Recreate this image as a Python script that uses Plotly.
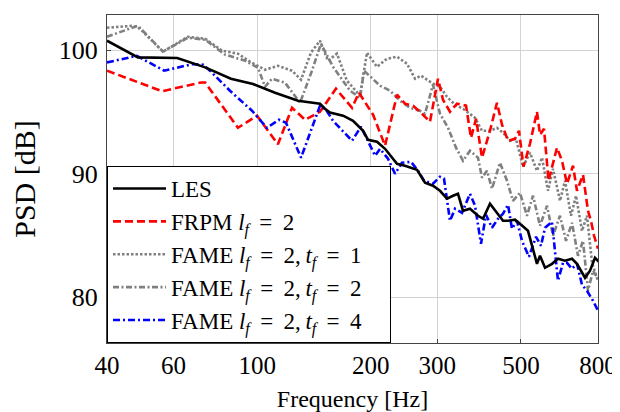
import plotly.graph_objects as go

# ---------------- data ----------------
les_f = [40.0, 48.3, 61.4, 72.8, 85.2, 97.5, 111.5, 128.3, 146.7, 151.2, 155.9, 168.9, 179.5,
         190.8, 196.7, 207.7, 218.2, 234.7, 246.4, 265.2, 278.4, 292.3, 305.1, 318.4, 330.3,
         340.5, 351.1, 366.4, 384.7, 396.6, 413.9, 432.0, 448.1, 462.0, 482.1, 497.0, 521.9,
         551.3, 561.6, 579.0, 604.2, 626.7, 654.1, 682.7, 703.8, 739.0, 761.9, 785.5, 809.8]
les_db = [100.77, 99.42, 99.37, 98.61, 97.69, 97.26, 96.56, 95.91, 95.67, 95.26, 94.96, 94.70,
          94.29, 93.48, 92.75, 92.59, 92.02, 90.81, 90.65, 90.32, 89.27, 89.03, 88.62, 87.98,
          88.22, 88.38, 87.00, 87.17, 86.60, 86.36, 87.57, 86.84, 86.19, 86.19, 86.28, 85.95,
          85.38, 82.71, 83.36, 82.39, 82.71, 83.12, 82.96, 83.12, 82.71, 81.58, 82.15, 83.20, 82.79]

frpm_f = [40.0, 56.0, 71.0, 72.8, 88.9, 99.9, 113.5, 123.7, 133.9, 146.7, 161.7, 178.4, 186.1,
          202.8, 218.2, 227.7, 234.7, 246.4, 258.8, 273.3, 287.0, 301.4, 310.7, 324.3, 338.4,
          357.6, 368.6, 380.1, 394.2, 413.9, 431.9, 445.4, 462.0, 482.1, 494.0, 507.7, 528.3,
          551.3, 561.6, 575.5, 591.5, 622.9, 642.2, 662.1, 686.9, 703.8, 730.1, 752.6, 766.6,
          780.7, 800.0]
frpm_db = [98.34, 96.68, 97.39, 97.39, 93.72, 94.70, 92.39, 95.34, 94.37, 95.02, 96.88, 95.34,
           96.56, 94.78, 92.27, 94.70, 96.40, 95.67, 95.51, 94.86, 94.21, 97.69, 95.99, 95.02,
           95.67, 95.51, 92.91, 94.45, 91.30, 93.48, 95.75, 93.97, 92.67, 92.83, 93.48, 90.57,
           92.43, 95.02, 93.16, 93.64, 89.43, 92.11, 91.05, 89.19, 90.65, 88.62, 89.92, 87.00,
           86.19, 85.00, 83.93]

fame1_f = [40.0, 46.9, 48.9, 56.3, 65.5, 72.8, 80.7, 88.9, 95.7, 104.9, 113.5, 123.7, 130.7,
           138.8, 146.7, 154.0, 162.7, 172.9, 187.3, 195.4, 207.7, 220.8, 234.7, 249.4, 262.0,
           271.7, 292.3, 305.1, 318.4, 334.4, 351.1, 377.8, 394.2, 413.9, 431.9, 448.1, 467.6,
           485.0, 506.2, 528.3, 551.3, 568.5, 589.7, 607.9, 634.4, 654.1, 678.5, 699.6, 725.6,
           748.1, 771.3, 800.0]
fame1_db = [101.82, 101.98, 101.74, 99.88, 101.09, 100.93, 99.96, 99.72, 99.07, 98.42, 98.74,
            98.34, 97.61, 99.80, 100.77, 99.15, 99.72, 97.53, 96.32, 99.80, 98.66, 99.31, 99.47,
            98.91, 97.69, 97.94, 97.29, 97.04, 96.23, 95.59, 95.26, 94.53, 93.48, 93.48, 93.72,
            93.32, 92.67, 92.83, 90.57, 91.70, 90.24, 91.30, 88.62, 90.40, 87.81, 89.43, 86.60,
            88.22, 85.38, 86.60, 82.79, 81.34]

fame2_f = [40.0, 48.3, 56.3, 65.5, 72.8, 82.2, 92.9, 100.5, 104.9, 109.4, 118.5, 129.9, 139.7,
           147.6, 158.8, 176.2, 187.3, 191.9, 211.6, 224.9, 239.0, 254.1, 270.0, 278.4, 292.3,
           305.1, 320.4, 336.4, 351.1, 366.4, 384.7, 394.2, 406.4, 419.0, 440.0, 459.2, 476.2,
           497.0, 518.6, 538.1, 561.6, 586.1, 607.9, 634.4, 658.1, 682.7, 708.1, 730.1, 752.6,
           776.0, 800.0]
fame2_db = [101.09, 101.98, 99.88, 101.01, 100.85, 99.64, 99.15, 98.58, 97.04, 97.69, 97.37,
            95.75, 98.34, 100.53, 98.66, 96.72, 96.15, 98.34, 97.13, 96.72, 95.91, 95.34, 95.10,
            94.86, 97.21, 94.86, 93.72, 92.11, 91.05, 91.86, 91.30, 89.68, 90.24, 88.79, 90.89,
            89.43, 87.81, 88.46, 86.60, 88.22, 85.79, 87.41, 84.98, 86.60, 84.57, 86.03, 83.36,
            84.57, 80.53, 82.15, 81.50]

fame4_f = [40.0, 48.0, 56.7, 67.2, 71.9, 75.0, 84.7, 96.9, 106.1, 114.2, 119.2, 130.7, 146.7,
           152.2, 158.8, 170.9, 178.4, 188.4, 199.1, 205.3, 211.6, 222.2, 231.9, 241.9, 255.6,
           266.8, 276.7, 292.3, 305.1, 312.6, 324.3, 334.4, 348.9, 366.4, 377.8, 391.8, 403.9,
           419.0, 434.6, 448.1, 462.0, 473.3, 488.0, 503.1, 525.0, 548.0, 565.0, 579.0, 604.2,
           626.7, 646.2, 662.1, 682.7, 703.8, 725.6, 748.1, 776.0, 800.0]
fame4_db = [99.01, 99.55, 98.34, 98.87, 98.83, 98.34, 96.72, 95.10, 93.72, 94.37, 94.13, 91.30,
            95.51, 95.18, 94.29, 93.24, 92.67, 93.81, 92.27, 91.46, 92.02, 91.21, 90.00, 90.89,
            90.97, 90.24, 89.43, 89.19, 89.76, 89.60, 86.19, 87.17, 86.84, 88.38, 87.41, 84.33,
            86.68, 85.63, 86.36, 86.76, 87.49, 85.55, 86.19, 84.57, 83.28, 84.90, 84.17, 85.63,
            86.11, 81.34, 82.79, 82.79, 82.31, 82.71, 81.01, 80.53, 79.72, 78.91]

x_ticks = [40, 60, 100, 200, 300, 500, 800]
x_tick_text = ["40", "60", "100", "200", "300", "500", "800"]
y_ticks = [80, 90, 100]
y_tick_text = ["80", "90", "100"]
x_title = "Frequency [Hz]"
y_title = "PSD [dB]"

SP = "\u2009"  # thin space for math-like spacing
EQ = f"{SP} = {SP}"
PAD = "\u2002" * 2  # invisible trailing padding to widen the legend box
names = ["LES",
         f"FRPM <i>l<sub>f</sub></i>{EQ}2",
         f"FAME <i>l<sub>f</sub></i>{EQ}2,{SP}<i>t<sub>f</sub></i>{EQ}1{PAD}",
         f"FAME <i>l<sub>f</sub></i>{EQ}2,{SP}<i>t<sub>f</sub></i>{EQ}2{PAD}",
         f"FAME <i>l<sub>f</sub></i>{EQ}2,{SP}<i>t<sub>f</sub></i>{EQ}4{PAD}"]

# ---------------- figure ----------------
FONT = "Liberation Serif"
styles = [
    dict(color="black", width=2.6, dash="solid"),
    dict(color="#ff0000", width=2.6, dash="8px,4px"),
    dict(color="#808080", width=2.6, dash="2.5px,2px"),
    dict(color="#808080", width=2.6, dash="6px,2.5px,2px,2.5px"),
    dict(color="#0000ff", width=2.6, dash="7px,3px,2px,3px"),
]
series = [(les_f, les_db), (frpm_f, frpm_db), (fame1_f, fame1_db),
          (fame2_f, fame2_db), (fame4_f, fame4_db)]

traces = []
for i, ((fx, fy), st, nm) in enumerate(zip(series, styles, names)):
    traces.append(go.Scatter(x=fx, y=fy, mode="lines", name=nm, line=st,
                             legendgroup=f"g{i}", legendrank=i + 1))

# draw order: grays first, then red, blue, black on top
fig = go.Figure(data=[traces[2], traces[3], traces[1], traces[4], traces[0]])

# the page body adds an 8px offset; the figure is sized to fill the rest of the window
fig.update_layout(
    width=612, height=404,
    margin=dict(l=99, r=22, t=7, b=69, autoexpand=False),
    paper_bgcolor="white", plot_bgcolor="white",
    font=dict(family=FONT, size=25, color="black"),
    showlegend=True,
    legend=dict(
        x=0, y=0, xanchor="left", yanchor="bottom",
        bgcolor="white", bordercolor="black", borderwidth=1,
        font=dict(family=FONT, size=23, color="black"),
        tracegroupgap=0, traceorder="normal", itemwidth=53,
    ),
)
fig.update_xaxes(
    type="log", range=[1.60206, 2.90309],
    tickvals=x_ticks, ticktext=x_tick_text,
    showgrid=True, gridcolor="#d3d3d3", gridwidth=1,
    showline=True, linecolor="#444", linewidth=1, mirror=True,
    ticks="inside", ticklen=4, tickcolor="#444",
    title=dict(text=x_title, standoff=16, font=dict(family=FONT, size=24)),
    tickfont=dict(size=25), zeroline=False, automargin=False,
    ticklabelstandoff=0,
)
fig.update_yaxes(
    range=[76.3, 102.85],
    tickvals=y_ticks, ticktext=y_tick_text,
    showgrid=True, gridcolor="#d3d3d3", gridwidth=1,
    showline=True, linecolor="#444", linewidth=1, mirror=True,
    ticks="inside", ticklen=4, tickcolor="#444",
    title=dict(text=y_title, standoff=18),
    tickfont=dict(size=26), zeroline=False, automargin=False,
    ticklabelstandoff=3,
)

fig.write_html("out.html")
